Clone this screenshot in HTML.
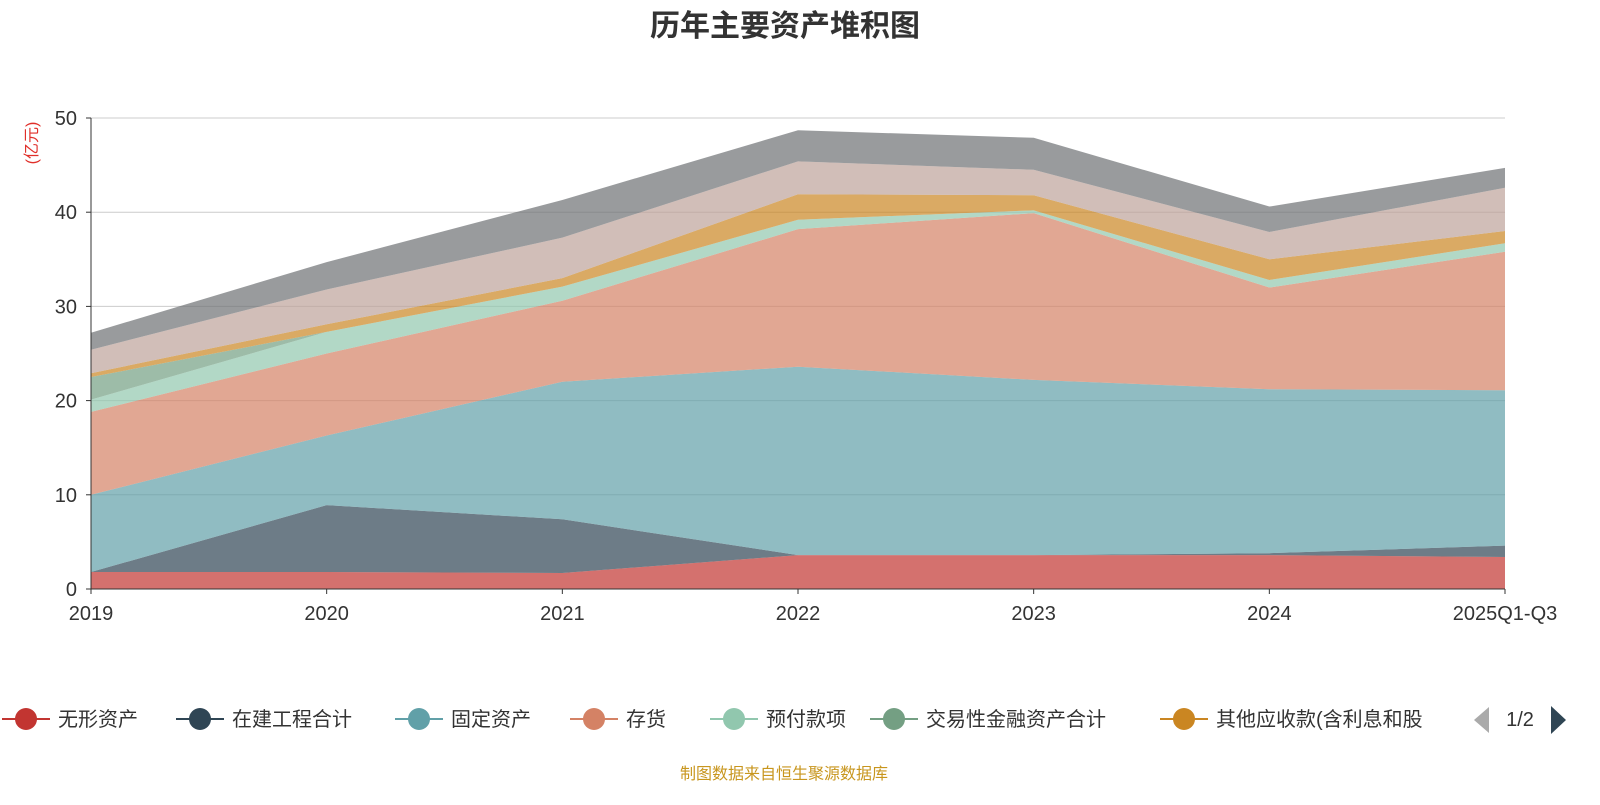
<!DOCTYPE html>
<html><head><meta charset="utf-8">
<style>
body{margin:0;width:1600px;height:800px;background:#fff;overflow:hidden;font-family:"Liberation Sans","Noto Sans CJK SC",sans-serif;}
</style></head>
<body>
<svg id="chart" width="1600" height="800" xmlns="http://www.w3.org/2000/svg" font-family="Liberation Sans, Noto Sans CJK SC, sans-serif">
<text x="785" y="36" text-anchor="middle" font-size="30" font-weight="bold" fill="#333">历年主要资产堆积图</text>
<text transform="translate(37,143) rotate(-90)" text-anchor="middle" font-size="16" fill="#e0302a">(亿元)</text>
<g id="grid"></g><g id="areas"></g><g id="axes"></g><g id="legend"></g>
<text x="784" y="779" text-anchor="middle" font-size="16" fill="#c8961e">制图数据来自恒生聚源数据库</text>
</svg>
<script>
const categories=["2019","2020","2021","2022","2023","2024","2025Q1-Q3"];
const seriesNames=["无形资产","在建工程合计","固定资产","存货","预付款项","交易性金融资产合计","其他应收款(含利息和股","应收账款","货币资金"];
const s0=[1.8,1.8,1.7,3.6,3.6,3.6,3.4];
const s1=[0,7.1,5.7,0,0,0.2,1.2];
const s2=[8.2,7.4,14.6,20.0,18.6,17.4,16.5];
const s3=[8.8,8.7,8.6,14.6,17.7,10.8,14.7];
const s4=[1.3,2.3,1.5,1.0,0.3,0.8,0.9];
const s5=[2.4,0,0,0,0,0,0];
const s6=[0.4,0.8,0.9,2.7,1.6,2.2,1.3];
const s7=[2.5,3.7,4.3,3.5,2.7,2.9,4.6];
const s8=[1.8,2.9,4.0,3.3,3.4,2.7,2.1];
const yTicks=[0,10,20,30,40,50];
const series=[s0,s1,s2,s3,s4,s5,s6,s7,s8];
const colors=["#c23531","#2f4554","#61a0a8","#d48265","#91c7ae","#749f83","#ca8622","#bda29a","#6e7074"];
const NS="http://www.w3.org/2000/svg";
const x0=91,x1=1505,yb=589,yt=118;
const xs=i=>x0+i*(x1-x0)/(categories.length-1);
const ys=v=>yb-v*(yb-yt)/50;
function mk(tag,attrs,parent){const e=document.createElementNS(NS,tag);for(const k in attrs)e.setAttribute(k,attrs[k]);parent.appendChild(e);return e;}
const grid=document.getElementById('grid'),areas=document.getElementById('areas'),axes=document.getElementById('axes'),legend=document.getElementById('legend');
yTicks.forEach(t=>{
 const l=mk('line',{x1:x0,x2:x1,y1:ys(t),y2:ys(t),stroke:t===0?'#333':'#ccc','stroke-width':1},t===0?axes:grid);
 
 
 mk('line',{x1:x0-5,x2:x0,y1:ys(t),y2:ys(t),stroke:'#333'},axes);
 const tx=mk('text',{x:x0-14,y:ys(t)+7,'text-anchor':'end','font-size':20,fill:'#333'},axes);
 tx.textContent=t;
 
 
});
mk('line',{x1:x0,x2:x0,y1:yt,y2:yb,stroke:'#333'},axes);
categories.forEach((c,i)=>{
 mk('line',{x1:xs(i),x2:xs(i),y1:yb,y2:yb+5,stroke:'#333'},axes);
 const tx=mk('text',{x:xs(i),y:yb+31,'text-anchor':'middle','font-size':20,fill:'#333'},axes);
 tx.textContent=c;
 
 
});
let base=categories.map(()=>0);
series.forEach((s,k)=>{
 const top=base.map((b,i)=>b+s[i]);
 let d='M'+top.map((v,i)=>xs(i)+','+ys(v)).join('L');
 for(let i=categories.length-1;i>=0;i--) d+='L'+xs(i)+','+ys(base[i]);
 const p=mk('path',{d:d+'Z',fill:colors[k],'fill-opacity':0.7,stroke:'none'},areas);
 
 
 base=top;
});
const lx=[2,176,395,570,710,870,1160];
for(let k=0;k<7;k++){
 const g=mk('g',{},legend);
 
 
 mk('line',{x1:lx[k],x2:lx[k]+48,y1:719,y2:719,stroke:colors[k],'stroke-width':2},g);
 mk('circle',{cx:lx[k]+24,cy:719,r:11,fill:colors[k]},g);
 const t=mk('text',{x:lx[k]+56,y:726,'font-size':20,fill:'#333'},g);
 t.textContent=seriesNames[k];
}
const cp=mk('rect',{x:1455,y:700,width:15,height:40,fill:'#fff'},legend);
const pl=mk('path',{d:'M1489,707L1474,720L1489,733Z',fill:'#aaa'},legend);


const pt=mk('text',{x:1520,y:726,'text-anchor':'middle','font-size':20,fill:'#333'},legend);
pt.textContent='1/2';


const pn=mk('path',{d:'M1551,706L1566,720L1551,734Z',fill:'#2f4554'},legend);


</script>
</body></html>
